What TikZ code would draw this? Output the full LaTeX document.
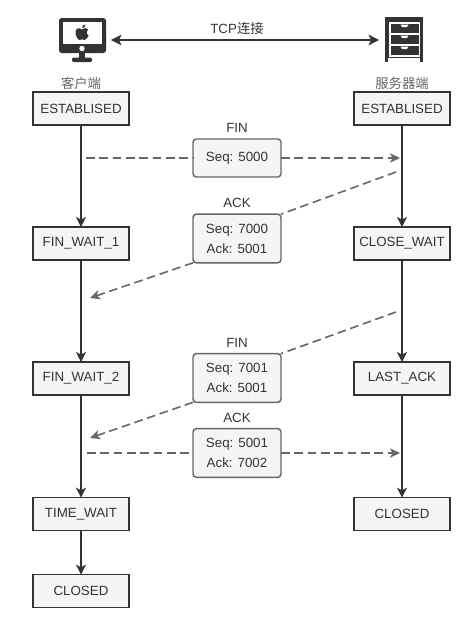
\documentclass[tikz,border=0pt]{standalone}
\usepackage{fontspec}
\setmainfont{Liberation Sans}
\newfontfamily\cjk{Noto Sans CJK SC}
\usepackage{xcolor}
\usetikzlibrary{arrows.meta,positioning}
\definecolor{inkdark}{HTML}{333333}
\definecolor{inkgray}{HTML}{666666}
\definecolor{boxfill}{HTML}{F5F5F5}

\begin{document}
\begin{tikzpicture}[
    x=0.75pt, y=-0.75pt,
    font=\fontsize{10}{15}\selectfont,
    statebox/.style={rectangle, draw=inkdark, fill=boxfill, line width=1.1pt, outer sep=0pt, minimum width=72pt, minimum height=24.75pt, inner sep=0pt, align=center, text=inkdark},
    msgbox/.style={rectangle, rounded corners=2.5pt, draw=inkgray, fill=boxfill, line width=1.1pt, outer sep=0pt, minimum width=66pt, inner sep=0pt, align=center, text=inkdark},
    msglabel/.style={inner sep=0pt, text=inkdark},
    peerlabel/.style={inner sep=0pt, text=inkgray},
    flow/.style={-{Stealth[length=7.5pt,width=7.5pt,inset=2pt]}, line width=1.1pt, draw=inkdark},
    signal/.style={dash pattern=on 6.5pt off 3.5pt, line width=1.2pt, draw=inkgray},
    signalend/.style={signal, -{Stealth[length=7.5pt,width=7pt,inset=2pt,fill=inkgray]}},
    link/.style={{Stealth[length=8pt,width=8pt,inset=2pt]}-{Stealth[length=8pt,width=8pt,inset=2pt]}, line width=1.1pt, draw=inkdark}
]
\useasboundingbox (0,0) rectangle (465,621);

% client column
\node[statebox] (c1) at (81,108.5) {ESTABLISED};
\node[statebox, below=76.5pt of c1] (c2) {FIN\_WAIT\_1};
\node[statebox, below=76.5pt of c2] (c3) {FIN\_WAIT\_2};
\node[statebox, below=77pt of c3] (c4) {TIME\_WAIT};
\node[statebox, below=33pt of c4] (c5) {CLOSED};

% server column
\node[statebox, right=168.75pt of c1] (s1) {ESTABLISED};
\node[statebox, below=76.5pt of s1] (s2) {CLOSE\_WAIT};
\node[statebox, below=76.5pt of s2] (s3) {LAST\_ACK};
\node[statebox, below=77pt of s3] (s4) {CLOSED};

\node[peerlabel] (clientname) at (81,83) {\cjk 客户端};
\node[peerlabel] (servername) at (402,83) {\cjk 服务器端};

% messages
\node[msgbox, minimum height=28.5pt] (m1) at (237,158) {Seq: 5000};
\node[msgbox, minimum height=36.5pt] (m2) at (237,238.5) {Seq: 7000\\Ack: 5001};
\node[msgbox, minimum height=36.5pt] (m3) at (237,378) {Seq: 7001\\Ack: 5001};
\node[msgbox, minimum height=36.5pt] (m4) at (237,453) {Seq: 5001\\Ack: 7002};
\node[msglabel, above=4.5pt of m1] (l1) {FIN};
\node[msglabel, above=4.5pt of m2] (l2) {ACK};
\node[msglabel, above=4.5pt of m3] (l3) {FIN};
\node[msglabel, above=4.5pt of m4] (l4) {ACK};

\coordinate (a1) at (86,158);
\coordinate (b1) at (400,158);
\coordinate (a2) at (396,172);
\coordinate (b2) at (90,298);
\coordinate (a3) at (396,312);
\coordinate (b3) at (90,438);
\coordinate (a4) at (87,453);
\coordinate (b4) at (400,453);

\draw[flow] (c1) -- (c2);
\draw[flow] (c2) -- (c3);
\draw[flow] (c3) -- (c4);
\draw[flow] (c4) -- (c5);
\draw[flow] (s1) -- (s2);
\draw[flow] (s2) -- (s3);
\draw[flow] (s3) -- (s4);

\draw[signal] (a1) -- (m1.west);
\draw[signalend] (m1.east) -- (b1);
\draw[signal] (a2) -- (m2.north east);
\draw[signalend] (m2.south west) -- (b2);
\draw[signal] (a3) -- (m3.north east);
\draw[signalend] (m3.south west) -- (b3);
\draw[signal] (a4) -- (m4.west);
\draw[signalend] (m4.east) -- (b4);

% monitor icon
\fill[inkdark, rounded corners=2pt] (59,18) rectangle (106,53);
\fill[white] (63,21.5) rectangle (102,44);
\fill[white] (82,48.5) circle (2pt);
\fill[inkdark] (79,52) rectangle (85,58);
\fill[inkdark, rounded corners=1pt] (72,57.5) rectangle (92,62);
\fill[inkdark] (82,29.5) .. controls (79,27.5) and (76,28) .. (75.5,32) .. controls (75.5,36) and (78,40) .. (79.5,40) .. controls (81,40) and (81,39.3) .. (82,39.3) .. controls (83,39.3) and (83.5,40) .. (84.5,40) .. controls (86,40) and (88,37) .. (88.7,35.5) .. controls (86,34) and (86,30.5) .. (88.2,29.3) .. controls (86.5,27.3) and (84,28) .. (82,29.5) -- cycle;
\fill[inkdark] (82,28.3) .. controls (82,26) and (83.5,24.5) .. (85.5,24.3) .. controls (85.5,26.5) and (84,28) .. (82,28.3) -- cycle;

% cabinet icon
\fill[inkdark] (385,17) rectangle (423,58);
\fill[inkdark] (385,58) rectangle (388,62);
\fill[inkdark] (420,58) rectangle (423,62);
\fill[white] (389,21.5) rectangle (420,56.5);
\foreach \top in {23.5,34.5,45.5} {
    \fill[inkdark] (390.5,\top) rectangle (418.5,\top+9.5);
    \fill[white] (400.5,\top+1) -- (408.5,\top+1) -- (407,\top+3.5) -- (402,\top+3.5) -- cycle;
}

% connection
\node[inner sep=0pt, minimum size=1pt] (monitor) at (110,40) {};
\node[inner sep=0pt, minimum size=1pt] (cabinet) at (380,40) {};
\draw[link] (monitor) -- (cabinet);
\node[msglabel] (tcp) at (237,28) {TCP{\cjk 连接}};
\end{tikzpicture}
\end{document}
